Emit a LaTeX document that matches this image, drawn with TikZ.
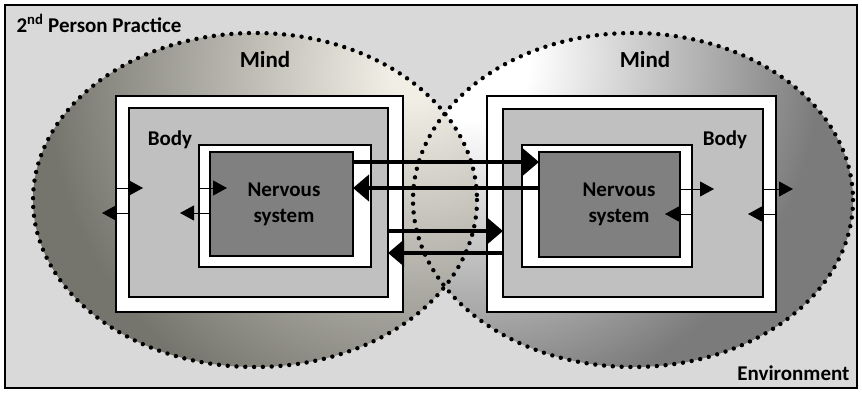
\documentclass[tikz,border=0pt]{standalone}
\usepackage{fontspec}
\setmainfont{Carlito}
\usetikzlibrary{arrows.meta}
\definecolor{envgray}{HTML}{D9D9D9}
\definecolor{bodygray}{HTML}{C0C0C0}
\definecolor{nsgray}{HTML}{808080}
\definecolor{mindLdark}{HTML}{75746D}
\definecolor{mindLlight}{HTML}{F0EEE5}
\definecolor{mindRdark}{HTML}{7B7B7B}
% light spot of each mind, fading outwards (25bp = circle radius)
\pgfdeclareradialshading{mindLshade}{\pgfpoint{0bp}{0bp}}{color(0bp)=(mindLlight); color(1bp)=(mindLlight); color(15.4bp)=(mindLdark); color(50bp)=(mindLdark)}
\pgfdeclareradialshading{mindRshade}{\pgfpoint{0bp}{0bp}}{color(0bp)=(white); color(2.5bp)=(white); color(14.6bp)=(mindRdark); color(50bp)=(mindRdark)}
\tikzset{
  lbl/.style={font=\bfseries\fontsize{21}{26}\selectfont},
  mindlbl/.style={font=\bfseries\fontsize{23}{26}\selectfont},
  box/.style={draw=black,line width=1.3pt,anchor=north west,inner sep=0pt,outer sep=0pt},
  whitebox/.style={box,fill=white},
  bodybox/.style={box,fill=bodygray},
  nsbox/.style={box,fill=nsgray},
  mindline/.style={line width=4.4pt,line cap=round,dash pattern=on 0pt off 8.8pt},
  thickarrow/.style={line width=4.5pt,-{Triangle[length=16pt,width=26pt]}},
  thinarrow/.style={line width=1pt,-{Triangle[length=14pt,width=15pt]}}
}
\begin{document}
\begin{tikzpicture}[x=1pt,y=-1pt]
\useasboundingbox (0,0) rectangle (862,394);
\node[box,fill=envgray,minimum width=852pt,minimum height=383pt] (env) at (5,5) {};
% the two minds
\begin{scope}
  \clip (633,200) ellipse [x radius=220,y radius=167];
  \shade[shading=mindRshade] (470,60) circle (600);
\end{scope}
\begin{scope}
  \clip (255,200) ellipse [x radius=222,y radius=167];
  \shade[shading=mindLshade] (415,75) circle (600);
\end{scope}
\draw[mindline] (255,200) ellipse [x radius=222,y radius=167];
\draw[mindline] (633,200) ellipse [x radius=220,y radius=167];
% left person
\node[whitebox,minimum width=287pt,minimum height=216pt] (frameL) at (116,96) {};
\node[bodybox,minimum width=259pt,minimum height=189pt] (bodyL) at (129,108) {};
\node[whitebox,minimum width=172pt,minimum height=122pt] (nsframeL) at (199,145) {};
\node[nsbox,minimum width=143pt,minimum height=104pt] (nsL) at (210,152) {};
% right person
\node[whitebox,minimum width=289pt,minimum height=216pt] (frameR) at (487,96) {};
\node[bodybox,minimum width=260pt,minimum height=188pt] (bodyR) at (503,109) {};
\node[whitebox,minimum width=170pt,minimum height=122pt] (nsframeR) at (522,145) {};
\node[nsbox,minimum width=141pt,minimum height=105pt] (nsR) at (539,152) {};
% between the two
\draw[thickarrow] (nsL.east |- 0,162) -- (nsR.west |- 0,162);
\draw[thickarrow] (nsR.west |- 0,188) -- (nsL.east |- 0,188);
\draw[thickarrow] (bodyL.east |- 0,231) -- (bodyR.west |- 0,231);
\draw[thickarrow] (bodyR.west |- 0,253) -- (bodyL.east |- 0,253);
% inside each person
\draw[thinarrow] (frameL.west |- 0,188) -- ++(27,0);
\draw[thinarrow] (bodyL.west |- 0,213) -- ++(-27,0);
\draw[thinarrow] (nsframeL.west |- 0,188) -- ++(28,0);
\draw[thinarrow] (nsL.west |- 0,213) -- ++(-30,0);
\draw[thinarrow] (nsR.east |- 0,189) -- ++(34,0);
\draw[thinarrow] (nsframeR.east |- 0,214) -- ++(-27,0);
\draw[thinarrow] (bodyR.east |- 0,189) -- ++(30,0);
\draw[thinarrow] (frameR.east |- 0,214) -- ++(-28,0);
% labels
\node[lbl,anchor=base west] (practice) at (13,32) {2\textsuperscript{nd} Person Practice};
\node[mindlbl,anchor=base] (mindLlbl) at (265,67) {Mind};
\node[mindlbl,anchor=base] (mindRlbl) at (645,67) {Mind};
\node[lbl,anchor=base] (bodyLlbl) at (170,145) {Body};
\node[lbl,anchor=base] (bodyRlbl) at (725,145) {Body};
\node[lbl,align=center] (nsLlbl) at (284,204) {Nervous\\system};
\node[lbl,align=center] (nsRlbl) at (619,204) {Nervous\\system};
\node[lbl,anchor=base east] (envlbl) at (853,380) {Environment};
\end{tikzpicture}
\end{document}
